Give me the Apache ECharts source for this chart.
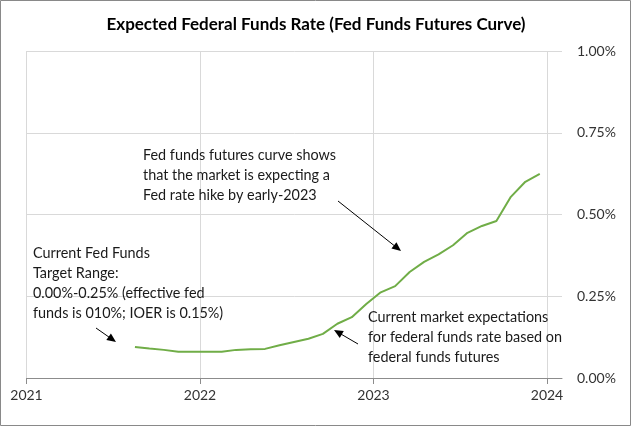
<!DOCTYPE html>
<html>
<head>
<meta charset="utf-8">
<script src="https://cdn.jsdelivr.net/npm/echarts@6/dist/echarts.min.js"></script>
<style>
html,body{margin:0;padding:0;background:#fff;}
#chart{width:632px;height:427px;}
</style>
</head>
<body>
<div id="chart"></div>
<script>
// ---- Data ----
const months = ['2021-08','2021-09','2021-10','2021-11','2021-12','2022-01','2022-02','2022-03','2022-04','2022-05','2022-06','2022-07','2022-08','2022-09','2022-10','2022-11','2022-12','2023-01','2023-02','2023-03','2023-04','2023-05','2023-06','2023-07','2023-08','2023-09','2023-10','2023-11','2023-12'];
const expectedRate = [0.095,0.090,0.086,0.080,0.080,0.080,0.080,0.086,0.088,0.089,0.100,0.110,0.120,0.135,0.166,0.186,0.226,0.262,0.281,0.324,0.355,0.378,0.406,0.444,0.465,0.480,0.554,0.600,0.624];
const yearTicks = [2021,2022,2023,2024];
const yTicks = ['0.00%','0.25%','0.50%','0.75%','1.00%'];
const titleText = 'Expected Federal Funds Rate (Fed Funds Futures Curve)';
const note1 = 'Fed funds futures curve shows\nthat the market is expecting a\nFed rate hike by early-2023';
const note2 = 'Current Fed Funds\nTarget Range:\n0.00%-0.25% (effective fed\nfunds is 010%; IOER is 0.15%)';
const note3 = 'Current market expectations\nfor federal funds rate based on\nfederal funds futures';

// month string -> fractional year at mid-month
function toYear(m){const [y,mo]=m.split('-').map(Number);return y+(mo-0.5)/12;}
const seriesData = months.map((m,i)=>[toYear(m), expectedRate[i]]);

const FONT = 'Lato';
const txtColor = '#333333';

function arrow(x1,y1,x2,y2){
  const dx=x2-x1, dy=y2-y1, len=Math.hypot(dx,dy);
  const ux=dx/len, uy=dy/len, nx=-uy, ny=ux;
  const L=9, W=4;
  const bx=x2-ux*L, by=y2-uy*L;
  return [
    {type:'line',shape:{x1:x1,y1:y1,x2:bx+ux*2,y2:by+uy*2},style:{stroke:'#000',lineWidth:1},z:10},
    {type:'polygon',shape:{points:[[x2,y2],[bx+nx*W,by+ny*W],[bx-nx*W,by-ny*W]]},style:{fill:'#000'},z:10}
  ];
}
function note(x,y,t){
  return {type:'text',x:x,y:y,z:10,style:{text:t,font:'14.4px '+FONT,fill:'#1a1a1a',lineHeight:20,textVerticalAlign:'top'}};
}

const chart = echarts.init(document.getElementById('chart'),null,{renderer:'canvas'});
chart.setOption({
  animation:false,
  backgroundColor:'#fff',
  title:{text:titleText,left:'center',top:11,textStyle:{fontFamily:FONT,fontWeight:'bold',fontSize:17,color:'#000'}},
  grid:[
    {left:26.5,right:85,top:51,bottom:49},
    {left:26.5,right:70,top:51,bottom:49}
  ],
  xAxis:[
    {type:'value',gridIndex:0,min:yearTicks[0],max:yearTicks[yearTicks.length-1],interval:1,
     axisLine:{show:true,lineStyle:{color:'#8c8c8c'}},
     axisTick:{show:true,length:6,lineStyle:{color:'#8c8c8c'}},
     axisLabel:{formatter:v=>String(v),color:txtColor,fontFamily:FONT,fontSize:14,margin:10},
     splitLine:{show:true,lineStyle:{color:'#d9d9d9'}}},
    {type:'value',gridIndex:1,min:0,max:1,
     axisLine:{show:true,onZero:false,lineStyle:{color:'#8c8c8c'}},
     axisTick:{show:false},axisLabel:{show:false},splitLine:{show:false}}
  ],
  yAxis:[
    {type:'value',gridIndex:0,min:0,max:1,interval:0.25,show:false,splitLine:{show:false}},
    {type:'value',gridIndex:1,min:0,max:1,interval:0.25,position:'right',
     axisLine:{show:false},axisTick:{show:false},
     axisLabel:{formatter:(v)=>yTicks[Math.round(v/0.25)],color:txtColor,fontFamily:FONT,fontSize:14,margin:15},
     splitLine:{show:true,lineStyle:{color:'#d9d9d9'}}}
  ],
  series:[{
    type:'line',xAxisIndex:0,yAxisIndex:0,data:seriesData,showSymbol:false,symbol:'none',
    lineStyle:{color:'#70ad47',width:2},z:5
  }],
  graphic:[
    {type:'rect',shape:{x:0.5,y:0.5,width:630,height:425},style:{fill:'none',stroke:'#898989',lineWidth:1},z:0,silent:true},
    note(143,145,note1),
    note(33,243,note2),
    note(368,307,note3),
    ...arrow(338,201,401,251),
    ...arrow(96,328,116,342),
    ...arrow(358,344,334,330)
  ]
});
</script>
</body>
</html>
